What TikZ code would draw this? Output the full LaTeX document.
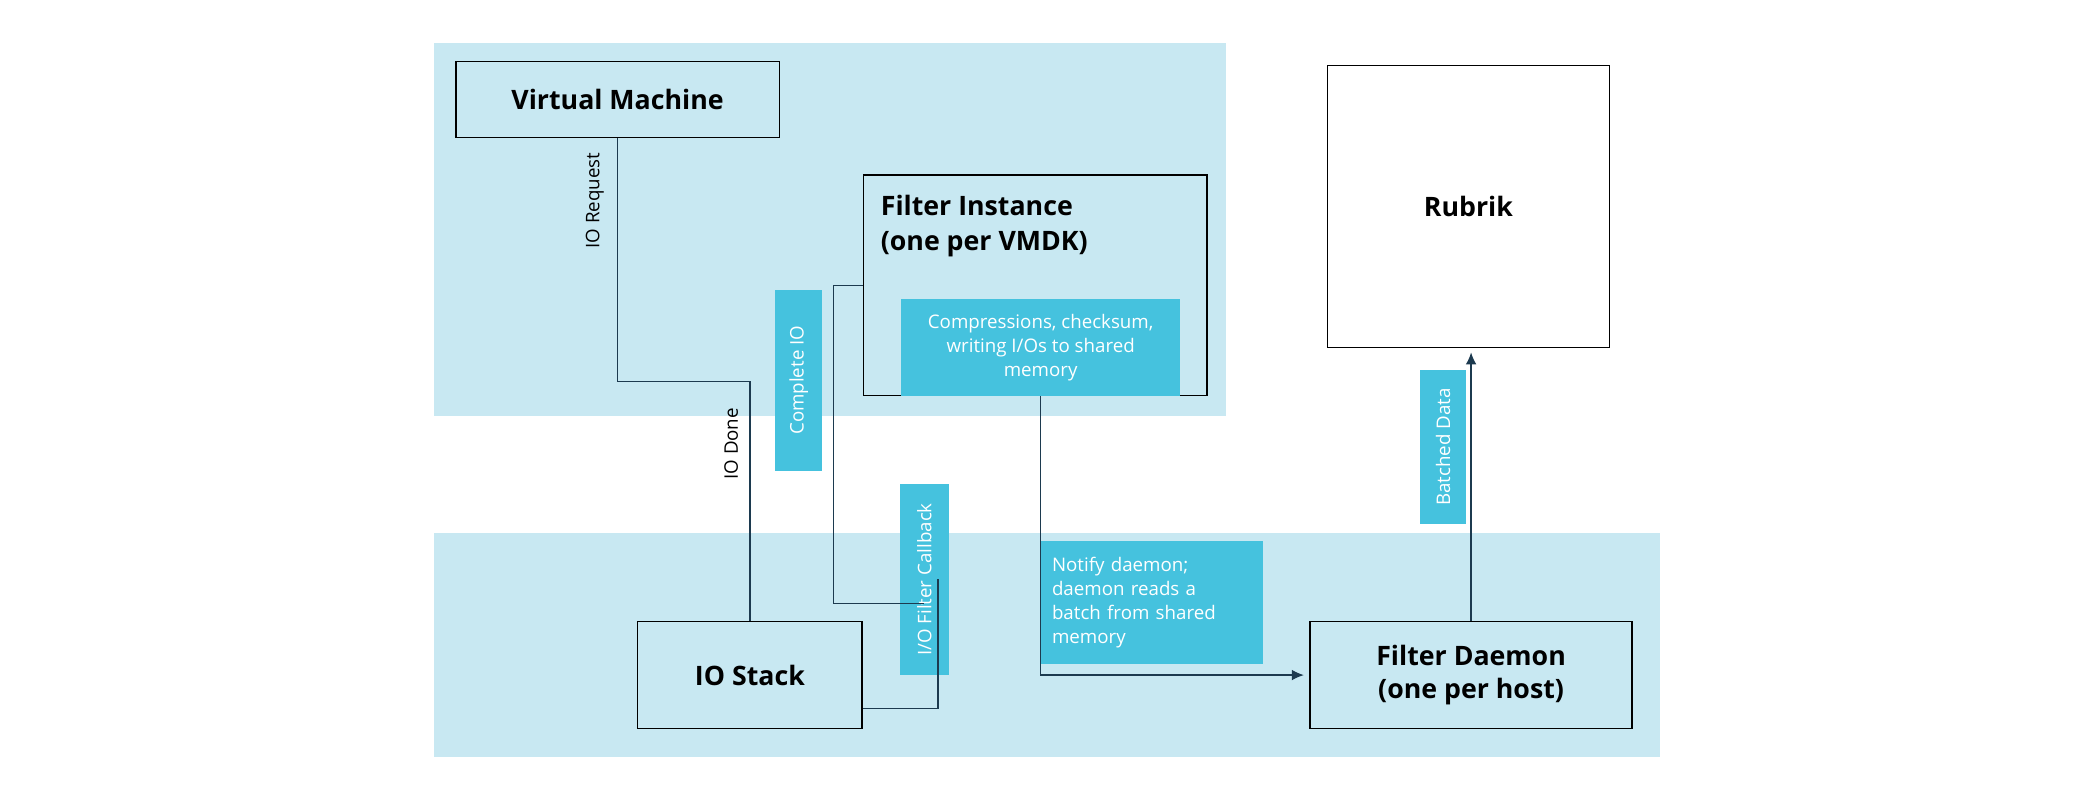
\documentclass[tikz,border=0pt]{standalone}
\usepackage{fontspec}
\setmainfont{Open Sans}
\usetikzlibrary{arrows.meta,positioning}
\definecolor{band}{HTML}{C8E8F2}
\definecolor{tagcyan}{HTML}{45C2DE}
\definecolor{wire}{HTML}{1C3A4F}
\tikzset{
  box/.style={draw=black, line width=1.2pt, font=\fontsize{20}{24}\selectfont\bfseries},
  tag/.style={fill=tagcyan, text=white, inner sep=0pt, font=\fontsize{14}{18}\selectfont},
  vtag/.style={tag, rotate=90},
  wirelab/.style={rotate=90, font=\fontsize{14}{18}\selectfont},
  link/.style={draw=wire, line width=1pt},
}
\begin{document}
\begin{tikzpicture}[x=1pt,y=-1pt]
  \useasboundingbox (0,0) rectangle (1568,600);
  \fill[band] (325,32) rectangle (917,311);
  \fill[band] (325,399) rectangle (1242,566);
  % boxes
  \node[box, minimum width=242pt, minimum height=57pt] (vm) at (462,74.5) {Virtual Machine};
  \node[box, minimum width=257pt, minimum height=165pt,
        label={[anchor=north west, align=left, xshift=10pt, yshift=-12pt,
                font=\fontsize{20}{26}\selectfont\bfseries]north west:Filter Instance\\(one per VMDK)}] (fi) at (774.5,213.5) {};
  \node[tag, minimum width=209pt, minimum height=72pt, align=center] (work) at (778.5,260)
        {Compressions, checksum,\\writing I/Os to shared\\memory};
  \node[box, fill=white, minimum width=211pt, minimum height=211pt] (rb) at (1098.5,154.5) {Rubrik};
  \node[box, minimum width=168pt, minimum height=80pt] (io) at (561,505) {IO Stack};
  \node[box, minimum width=241pt, minimum height=80pt, align=center] (dm) at (1100.5,505)
        {Filter Daemon\\(one per host)};
  % labels on cyan
  \node[vtag, minimum width=135pt, minimum height=35pt] (cio) at (597.5,284.5) {Complete IO};
  \node[vtag, minimum width=143pt, minimum height=37pt] (cb) at (691.5,433.5) {I/O Filter Callback};
  \node[tag, minimum width=166pt, minimum height=92pt, text width=150pt, align=left] (nt) at (862,451)
        {Notify daemon;\\daemon reads a\\batch from shared\\memory};
  \node[vtag, minimum width=115pt, minimum height=35pt] (bd) at (1079.5,334.5) {Batched Data};
  % plain labels
  \node[wirelab] (req) at (445,150) {IO Request};
  \node[wirelab] (done) at (547,332) {IO Done};
  % connectors
  \draw[link] (vm.south) -- ++(0,182) -| (io.north);
  \draw[link] (fi.west) -- ++(-22,0) |- ([yshift=53.5pt]cb.west);
  \draw[link] ([xshift=-8.5pt]cb.south) |- ([yshift=-25pt]io.east);
  \draw[link, -{Latex[length=9pt,width=8pt]}] (work.south) |- ([xshift=-4pt]dm.west);
  \draw[link, -{Latex[length=9pt,width=8pt]}] (dm.north) -- ([yshift=-3pt]dm.north |- rb.south);
\end{tikzpicture}
\end{document}
